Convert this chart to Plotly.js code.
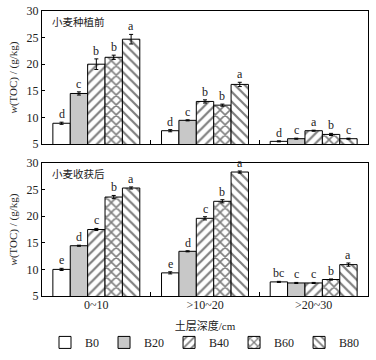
<!DOCTYPE html>
<html>
<head>
<meta charset="utf-8">
<script src="https://cdn.plot.ly/plotly-3.0.1.min.js"></script>
<style>html,body{margin:0;padding:0;background:#fff;}#chart{width:376px;height:360px;}</style>
</head>
<body>
<div id="chart"></div>
<script>
const categories = ["0~10", ">10~20", ">20~30"];
const seriesNames = ["B0", "B20", "B40", "B60", "B80"];

// 小麦种植前 (before planting)
const beforeB0 = [8.9, 7.5, 5.5];
const beforeB20 = [14.5, 9.45, 6.0];
const beforeB40 = [20.0, 13.0, 7.5];
const beforeB60 = [21.3, 12.3, 6.8];
const beforeB80 = [24.7, 16.2, 6.0];
const beforeErrB0 = [0.2, 0.2, 0.1];
const beforeErrB20 = [0.3, 0.1, 0.1];
const beforeErrB40 = [1.0, 0.3, 0.1];
const beforeErrB60 = [0.4, 0.2, 0.2];
const beforeErrB80 = [0.9, 0.4, 0.1];
const beforeLetB0 = ["d", "d", "d"];
const beforeLetB20 = ["c", "c", "c"];
const beforeLetB40 = ["b", "b", "a"];
const beforeLetB60 = ["b", "b", "b"];
const beforeLetB80 = ["a", "a", "c"];

// 小麦收获后 (after harvest)
const afterB0 = [10.0, 9.35, 7.65];
const afterB20 = [14.45, 13.4, 7.45];
const afterB40 = [17.5, 19.6, 7.45];
const afterB60 = [23.6, 22.8, 8.1];
const afterB80 = [25.3, 28.3, 10.9];
const afterErrB0 = [0.2, 0.2, 0.1];
const afterErrB20 = [0.1, 0.1, 0.1];
const afterErrB40 = [0.2, 0.3, 0.1];
const afterErrB60 = [0.3, 0.3, 0.1];
const afterErrB80 = [0.2, 0.2, 0.3];
const afterLetB0 = ["e", "e", "bc"];
const afterLetB20 = ["d", "d", "c"];
const afterLetB40 = ["c", "c", "c"];
const afterLetB60 = ["b", "b", "b"];
const afterLetB80 = ["a", "a", "a"];

const panelLabels = ["小麦种植前", "小麦收获后"];

const before = [beforeB0, beforeB20, beforeB40, beforeB60, beforeB80];
const beforeErr = [beforeErrB0, beforeErrB20, beforeErrB40, beforeErrB60, beforeErrB80];
const beforeLet = [beforeLetB0, beforeLetB20, beforeLetB40, beforeLetB60, beforeLetB80];
const after = [afterB0, afterB20, afterB40, afterB60, afterB80];
const afterErr = [afterErrB0, afterErrB20, afterErrB40, afterErrB60, afterErrB80];
const afterLet = [afterLetB0, afterLetB20, afterLetB40, afterLetB60, afterLetB80];

const FONT = "Liberation Serif, Times New Roman, Noto Sans CJK SC, serif";
const TXT = "#222222";
const styles = [
  {color: "#ffffff", pattern: null},
  {color: "#c8c8c8", pattern: null},
  {color: "#ffffff", pattern: {shape: "/", size: 7, solidity: 0.32, fgcolor: "#000", bgcolor: "#fff", fillmode: "overlay"}},
  {color: "#ffffff", pattern: {shape: "x", size: 7, solidity: 0.4, fgcolor: "#000", bgcolor: "#fff", fillmode: "overlay"}},
  {color: "#ffffff", pattern: {shape: "\\", size: 7, solidity: 0.32, fgcolor: "#000", bgcolor: "#fff", fillmode: "overlay"}}
];

const bargap = 0.2;
const traces = [];
const annotations = [];

function addPanel(vals, errs, lets, xa, ya, showLegend) {
  vals.forEach((v, i) => {
    const marker = {color: styles[i].color, line: {color: "#000", width: 1}};
    if (styles[i].pattern) marker.pattern = styles[i].pattern;
    traces.push({
      type: "bar", name: seriesNames[i], x: categories, y: v,
      xaxis: xa, yaxis: ya, marker: marker, legendgroup: seriesNames[i],
      showlegend: showLegend,
      error_y: {type: "data", array: errs[i], visible: true, color: "#000", thickness: 1, width: 2}
    });
    const w = (1 - bargap) / vals.length;
    v.forEach((val, c) => {
      annotations.push({
        x: c - (1 - bargap) / 2 + (i + 0.5) * w,
        y: val + errs[i][c],
        xref: xa, yref: ya, text: lets[i][c], showarrow: false,
        yanchor: "bottom", yshift: -1,
        font: {family: FONT, size: 12, color: TXT}
      });
    });
  });
}

addPanel(before, beforeErr, beforeLet, "x", "y", true);
addPanel(after, afterErr, afterLet, "x2", "y2", false);

annotations.push({xref: "x domain", yref: "y domain", x: 0.025, y: 0.98, xanchor: "left", yanchor: "top",
  text: panelLabels[0], showarrow: false, font: {family: FONT, size: 10.5, color: TXT}});
annotations.push({xref: "x2 domain", yref: "y2 domain", x: 0.025, y: 0.98, xanchor: "left", yanchor: "top",
  text: panelLabels[1], showarrow: false, font: {family: FONT, size: 10.5, color: TXT}});

const xBase = {
  type: "category", showline: true, mirror: true, linecolor: "#000", linewidth: 1,
  ticks: "inside", ticklen: 4, tickcolor: "#000", tickson: "boundaries",
  range: [-0.5, 2.5], tickfont: {family: FONT, size: 12, color: TXT}, fixedrange: true
};
const yBase = {
  range: [5, 30], dtick: 5, tick0: 5, showline: true, mirror: true, linecolor: "#000", linewidth: 1,
  ticks: "inside", ticklen: 3, tickcolor: "#000", showgrid: false, zeroline: false,
  tickfont: {family: FONT, size: 12, color: TXT},
  title: {text: "<i>w</i>(TOC) / (g/kg)", font: {family: FONT, size: 11, color: TXT}, standoff: 6}
};

const layout = {
  width: 376, height: 360,
  margin: {l: 42, r: 8, t: 11, b: 64, autoexpand: false},
  paper_bgcolor: "#fff", plot_bgcolor: "#fff",
  barmode: "group", bargap: bargap, bargroupgap: 0,
  showlegend: true,
  legend: {orientation: "h", x: 0.5, xanchor: "center", y: -0.112, yanchor: "top",
    itemwidth: 30, tracegroupgap: 0,
    font: {family: FONT, size: 12, color: TXT}, traceorder: "normal"},
  xaxis: Object.assign({}, xBase, {anchor: "y", showticklabels: false}),
  xaxis2: Object.assign({}, xBase, {anchor: "y2", ticklabelstandoff: -2,
    title: {text: "土层深度/cm", font: {family: FONT, size: 11, color: TXT}, standoff: 10}}),
  yaxis: Object.assign({}, yBase, {domain: [0.5333, 1], anchor: "x"}),
  yaxis2: Object.assign({}, yBase, {domain: [0, 0.4667], anchor: "x2"}),
  annotations: annotations
};

Plotly.newPlot("chart", traces, layout, {displayModeBar: false, staticPlot: true});
</script>
</body>
</html>
